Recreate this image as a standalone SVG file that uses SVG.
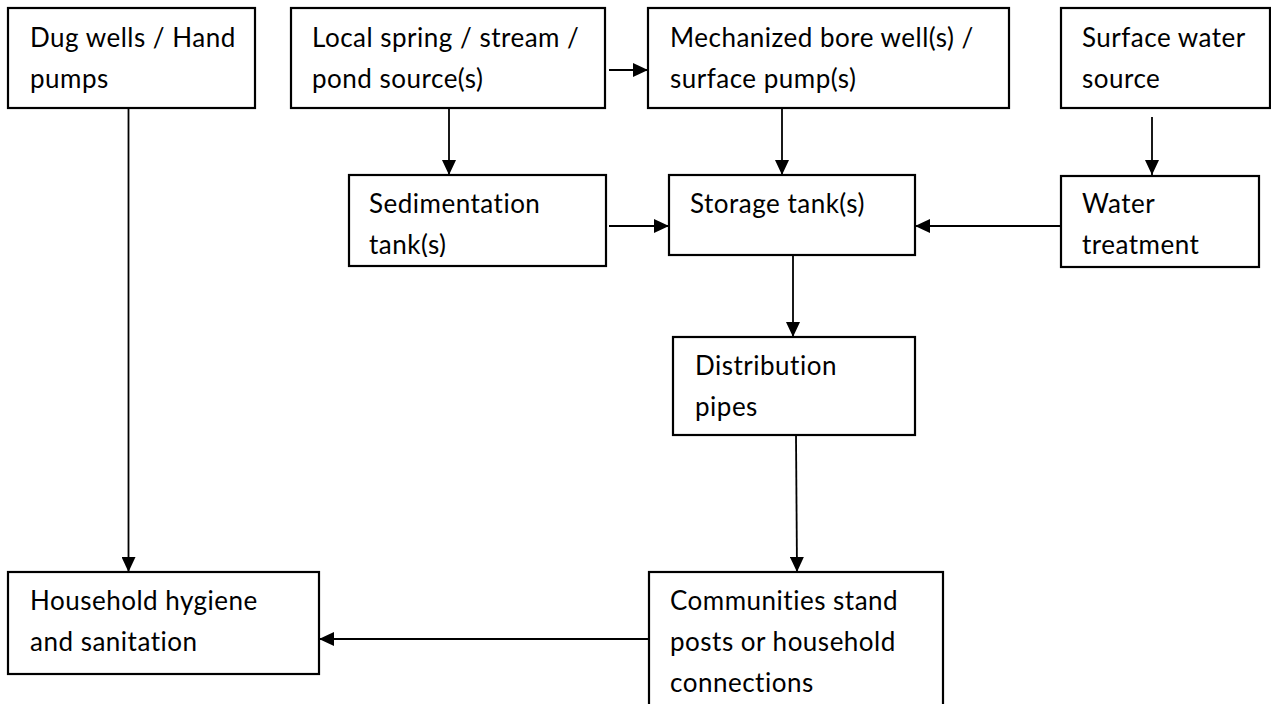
<svg xmlns="http://www.w3.org/2000/svg" width="1271" height="704" viewBox="0 0 1271 704">
<style>
.box{fill:#fff;stroke:#000;stroke-width:2.2}
.lbl{font-family:Lato,"Open Sans","Liberation Sans",sans-serif;font-size:26px;letter-spacing:0.5px;fill:#000}
.ln{stroke:#000;stroke-width:1.8;fill:none}
</style>
<defs>
<marker id="ah" viewBox="0 0 15 14" refX="15" refY="7" markerWidth="15" markerHeight="14" markerUnits="userSpaceOnUse" orient="auto">
<path d="M0,0 L15,7 L0,14 Z" fill="#000"/>
</marker>
<clipPath id="sedclip"><rect x="349" y="175" width="257" height="82"/></clipPath>
</defs>
<rect width="1271" height="704" fill="#fff"/>
<g id="connectors">
<line class="ln" x1="128.5" y1="108" x2="128.5" y2="572" marker-end="url(#ah)"/>
<line class="ln" x1="609" y1="70" x2="648" y2="70" marker-end="url(#ah)"/>
<line class="ln" x1="449" y1="108" x2="449" y2="175" marker-end="url(#ah)"/>
<line class="ln" x1="782" y1="108" x2="782" y2="175" marker-end="url(#ah)"/>
<line class="ln" x1="1152" y1="117" x2="1152" y2="175" marker-end="url(#ah)"/>
<line class="ln" x1="609" y1="226" x2="669" y2="226" marker-end="url(#ah)"/>
<line class="ln" x1="1061" y1="226" x2="915" y2="226" marker-end="url(#ah)"/>
<line class="ln" x1="793" y1="255" x2="793" y2="337" marker-end="url(#ah)"/>
<line class="ln" x1="796" y1="435" x2="797" y2="572" marker-end="url(#ah)"/>
<line class="ln" x1="649" y1="639" x2="319" y2="639" marker-end="url(#ah)"/>
</g>
<g id="dug-wells">
<rect class="box" x="8" y="8" width="247" height="100"/>
<text class="lbl" x="30" y="47">Dug wells / Hand</text>
<text class="lbl" x="30" y="88">pumps</text>
</g>
<g id="local-spring">
<rect class="box" x="291" y="8" width="314" height="100"/>
<text class="lbl" x="312" y="47">Local spring / stream /</text>
<text class="lbl" x="312" y="88">pond source(s)</text>
</g>
<g id="mechanized">
<rect class="box" x="648" y="8" width="361" height="100"/>
<text class="lbl" x="670" y="47">Mechanized bore well(s) /</text>
<text class="lbl" x="670" y="88">surface pump(s)</text>
</g>
<g id="surface-water">
<rect class="box" x="1061" y="8" width="209" height="100"/>
<text class="lbl" x="1082" y="47">Surface water</text>
<text class="lbl" x="1082" y="88">source</text>
</g>
<g id="sedimentation">
<rect class="box" x="349" y="175" width="257" height="91"/>
<g clip-path="url(#sedclip)">
<text class="lbl" x="369" y="213">Sedimentation</text>
<text class="lbl" x="369" y="254">tank(s)</text>
</g>
</g>
<g id="storage">
<rect class="box" x="669" y="175" width="246" height="80"/>
<text class="lbl" x="690" y="213">Storage tank(s)</text>
</g>
<g id="water-treatment">
<rect class="box" x="1061" y="176" width="198" height="91"/>
<text class="lbl" x="1082" y="213">Water</text>
<text class="lbl" x="1082" y="254">treatment</text>
</g>
<g id="distribution">
<rect class="box" x="673" y="337" width="242" height="98"/>
<text class="lbl" x="695" y="375">Distribution</text>
<text class="lbl" x="695" y="416">pipes</text>
</g>
<g id="household">
<rect class="box" x="8" y="572" width="311" height="102"/>
<text class="lbl" x="30" y="610">Household hygiene</text>
<text class="lbl" x="30" y="651">and sanitation</text>
</g>
<g id="communities">
<rect class="box" x="649" y="572" width="294" height="140"/>
<text class="lbl" x="670" y="610">Communities stand</text>
<text class="lbl" x="670" y="651">posts or household</text>
<text class="lbl" x="670" y="692">connections</text>
</g>
</svg>
